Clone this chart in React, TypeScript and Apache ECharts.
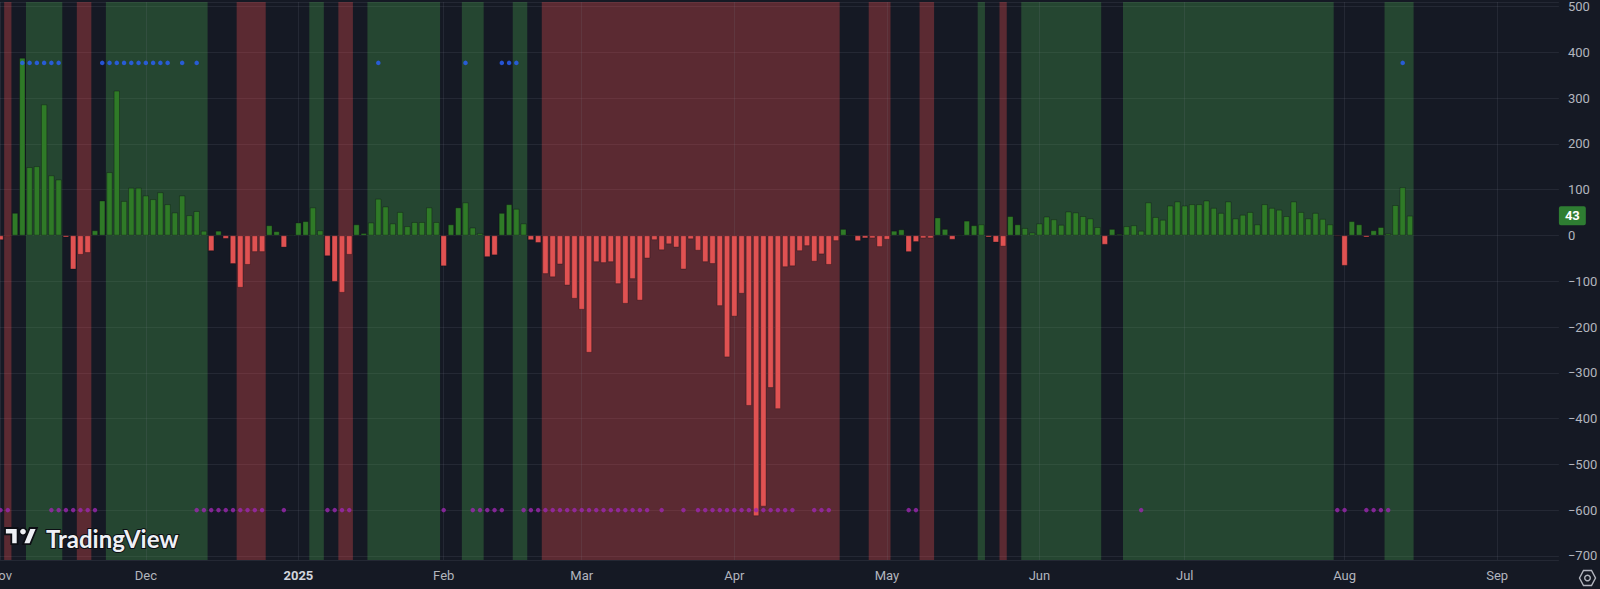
import React, { useEffect, useRef } from 'react';
import * as echarts from 'echarts';

// Daily net flow values per trading day (index 0 = first November session)
const flowValues: number[] = [
  -10, -3, 49, 388, 149, 151, 286, 131, 122, -4,
  -74, -42, -38, 11, 76, 138, 316, 75, 104, 104,
  87, 79, 94, 68, 50, 87, 44, 53, 10, -34,
  10, -7, -62, -114, -64, -36, -36, 22, 9, -26,
  2, 28, 31, 61, 11, -45, -101, -125, -42, 24,
  5, 28, 80, 63, 26, 51, 20, 29, 29, 61,
  29, -67, 24, 61, 72, 17, 5, -47, -43, 49,
  68, 58, 26, -10, -16, -84, -91, -63, -109, -138,
  -162, -256, -58, -60, -58, -106, -149, -95, -142, -50,
  -10, -32, -19, -26, -74, -8, -33, -58, -62, -154,
  -266, -177, -127, -372, -613, -592, -333, -379, -69, -67,
  -34, -23, -57, -41, -64, -12, 14, 2, -12, -6,
  -6, -25, -9, 10, 13, -36, -14, -6, -6, 39,
  14, -9, 2, 32, 22, 24, -4, -15, -24, 42,
  24, 16, 6, 26, 41, 35, 23, 52, 50, 42,
  37, 18, -20, 14, 3, 20, 22, 10, 72, 40,
  34, 65, 74, 65, 68, 68, 76, 60, 49, 74,
  37, 45, 51, 24, 68, 60, 56, 42, 74, 51,
  37, 49, 36, 24, -2, -66, 31, 24, -4, 11,
  18, 4, 66, 105, 43,
];

// Background regimes: [first day index, last day index]
const greenBands: number[][] = [
  [4, 8], [15, 28], [43, 44], [51, 60], [64, 66], [71, 72],
  [135, 135], [141, 151], [155, 183], [191, 194],
];
const redBands: number[][] = [
  [1, 1], [11, 12], [33, 36], [47, 48], [75, 115], [120, 122], [127, 128], [138, 138],
];

// Signal dots
const blueDotDays: number[] = [3, 4, 5, 6, 7, 8, 14, 15, 16, 17, 18, 19, 20, 21, 22, 23, 25, 27, 52, 64, 69, 70, 71, 193];
const blueLevel = 377;
const purpleDotDays: number[] = [
  0, 1, 7, 8, 9, 10, 11, 12, 13,
  27, 28, 29, 30, 31, 32, 33, 34, 35, 36, 39,
  45, 46, 47, 48, 61, 65, 66, 67, 68, 69,
  72, 73, 74, 75, 76, 77, 78, 79, 80, 81, 82, 83, 84, 85, 86, 87, 88, 89,
  91, 94, 96, 97, 98, 99, 100, 101, 102, 103, 104, 105, 106, 107, 108, 109,
  112, 113, 114, 125, 126, 157, 184, 185, 188, 189, 190, 191,
];
const purpleLevel = -600;

// Month tick labels at trading-day indices
const monthTickIndex: number[] = [0, 20, 41, 61, 80, 101, 122, 143, 163, 185, 206];
const monthTickLabel: string[] = ['Nov', 'Dec', '2025', 'Feb', 'Mar', 'Apr', 'May', 'Jun', 'Jul', 'Aug', 'Sep'];
const totalSlots = 215;
const lastValue = 43;

const BG = '#151924';
const GRID = 'rgba(120,123,134,0.16)';
const TEXT = '#b2b5be';
const GREEN_BAR = '#2f7a27';
const RED_BAR = '#e05252';
const GREEN_BAND = 'rgba(76,175,80,0.3)';
const RED_BAND = 'rgba(255,82,82,0.3)';

echarts.graphic.registerShape(
  'tvlogo',
  echarts.graphic.extendPath('M14 22H7V11H0V4h14v18z M28 22h-8l7.5-18h8L28 22z', {})
);

export default function App() {
  const ref = useRef<HTMLDivElement>(null);

  useEffect(() => {
    if (!ref.current) return;
    const chart = echarts.init(ref.current, null, { renderer: 'svg' });
    const categories = Array.from({ length: totalSlots }, (_, i) => String(i));
    const tickSet = new Set(monthTickIndex);
    const bands = [
      ...greenBands.map((b) => [b[0], 0, b[1], 1]),
      ...redBands.map((b) => [b[0], 0, b[1], 0]),
    ];
    const fmtY = (v: number) => (v < 0 ? '\u2212' + Math.abs(v) : String(v));
    const fg = '#eef0f5';
    const outline = '#0c0e14';
    const lg = 0.9;
    const lx = 5;
    const ly = 524.4;

    chart.setOption({
      animation: false,
      backgroundColor: BG,
      grid: {
        left: -3.1,
        right: 41.1,
        top: 2,
        bottom: 29,
        containLabel: false,
        outerBoundsMode: 'none',
      },
      xAxis: {
        type: 'category',
        data: categories,
        boundaryGap: true,
        axisLine: { show: false },
        axisTick: { show: false },
        splitLine: { show: false },
        axisLabel: {
          interval: (idx: number) => tickSet.has(idx),
          formatter: (_v: string, idx: number) => {
            const k = monthTickIndex.indexOf(idx);
            if (k < 0) return '';
            const t = monthTickLabel[k];
            return /^\d+$/.test(t) ? '{yr|' + t + '}' : t;
          },
          color: TEXT,
          fontSize: 13,
          fontFamily: 'Roboto',
          margin: 9,
          rich: { yr: { fontWeight: 'bold', color: '#d1d4dc', fontSize: 13, fontFamily: 'Roboto' } },
        },
      },
      yAxis: {
        type: 'value',
        position: 'right',
        min: -709,
        max: 510,
        splitNumber: 12,
        axisLine: { show: false },
        axisTick: { show: false },
        splitLine: { lineStyle: { color: GRID, width: 1 } },
        axisLabel: {
          color: TEXT,
          fontSize: 13,
          fontFamily: 'Roboto',
          margin: 9,
          showMinLabel: false,
          showMaxLabel: false,
          formatter: fmtY,
        },
      },
      series: [
        {
          type: 'custom',
          z: 1,
          silent: true,
          data: bands,
          encode: { x: [0, 2], y: 1 },
          renderItem: (params: any, api: any) => {
            const s = api.value(0);
            const e = api.value(2);
            const w = api.size([1, 0])[0];
            const x0 = api.coord([s, 0])[0] - w / 2;
            const x1 = api.coord([e, 0])[0] + w / 2;
            const cs = params.coordSys;
            return {
              type: 'rect',
              shape: { x: x0, y: cs.y, width: x1 - x0, height: cs.height },
              style: { fill: api.value(3) === 1 ? GREEN_BAND : RED_BAND },
            };
          },
          markLine: {
            silent: true,
            z: 2,
            symbol: ['none', 'none'],
            label: { show: false },
            lineStyle: { color: GRID, width: 1, type: 'solid' },
            data: monthTickIndex.map((i) => ({ xAxis: i })),
          },
        },
        {
          type: 'bar',
          z: 3,
          barWidth: 6,
          data: flowValues,
          itemStyle: {
            color: (p: any) => (p.value >= 0 ? GREEN_BAR : RED_BAR),
            borderColor: 'rgba(8,10,14,0.55)',
            borderWidth: 0.6,
          },
          markLine: {
            silent: true,
            z: 6,
            symbol: ['none', 'none'],
            lineStyle: { color: 'rgba(0,0,0,0)', width: 0 },
            label: {
              show: true,
              position: 'end',
              distance: 0,
              formatter: String(lastValue),
              color: '#ffffff',
              backgroundColor: '#2e7d32',
              padding: [3, 6, 3, 6],
              fontSize: 13,
              fontWeight: 'bold',
              fontFamily: 'Roboto',
              borderRadius: 2,
            },
            data: [{ yAxis: lastValue }],
          },
        },
        {
          type: 'scatter',
          z: 4,
          symbolSize: 4.5,
          itemStyle: { color: '#2962ff' },
          data: blueDotDays.map((i) => [i, blueLevel]),
        },
        {
          type: 'scatter',
          z: 4,
          symbolSize: 4.5,
          itemStyle: { color: '#9c27b0' },
          data: purpleDotDays.map((i) => [i, purpleLevel]),
        },
      ],
      graphic: [
        {
          type: 'tvlogo',
          x: lx,
          y: ly,
          scaleX: lg,
          scaleY: lg,
          z: 100,
          style: { fill: fg, stroke: outline, lineWidth: 2 },
        },
        {
          type: 'circle',
          z: 100,
          shape: { cx: lx + 20 * lg, cy: ly + 8 * lg, r: 4 * lg },
          style: { fill: fg, stroke: outline, lineWidth: 1.5 },
        },
        {
          type: 'text',
          x: 46,
          y: 538,
          z: 100,
          style: {
            text: 'TradingView',
            fill: fg,
            stroke: outline,
            lineWidth: 2,
            fontSize: 24,
            fontWeight: 'bold',
            fontFamily: 'Lato',
            verticalAlign: 'middle',
          },
        },
        {
          type: 'polygon',
          z: 100,
          shape: {
            points: [
              [1579.5, 578], [1583.5, 570.5], [1591.5, 570.5],
              [1595.5, 578], [1591.5, 585.5], [1583.5, 585.5],
            ],
          },
          style: { fill: 'none', stroke: TEXT, lineWidth: 1.4 },
        },
        {
          type: 'circle',
          z: 100,
          shape: { cx: 1587.5, cy: 578, r: 2.8 },
          style: { fill: 'none', stroke: TEXT, lineWidth: 1.4 },
        },
      ],
    });

    return () => chart.dispose();
  }, []);

  return (
    <div
      ref={ref}
      style={{ position: 'fixed', left: 0, top: 0, width: 1600, height: 589, background: BG }}
    />
  );
}
